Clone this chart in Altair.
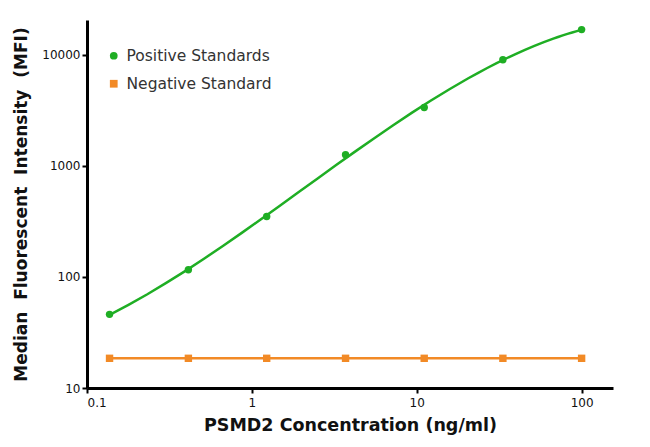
import altair as alt
import pandas as pd

conc = [0.137, 0.412, 1.23, 3.70, 11.1, 33.3, 100.0]
positive = [46, 116, 350, 1257, 3350, 9000, 16800]
negative = [18.5, 18.5, 18.5, 18.5, 18.5, 18.5, 18.5]
series_names = ["Positive Standards", "Negative Standard"]
colors = ["#1fae24", "#f28a26"]

rows = []
for c, p in zip(conc, positive):
    rows.append({"conc": c, "mfi": p, "series": series_names[0]})
for c, n in zip(conc, negative):
    rows.append({"conc": c, "mfi": n, "series": series_names[1]})
df = pd.DataFrame(rows)

FONT = "DejaVu Sans"
xs = alt.Scale(type="log", domain=[0.1, 155], nice=False)
ys = alt.Scale(type="log", domain=[10, 20500], nice=False)
cs = alt.Scale(domain=series_names, range=colors)
shs = alt.Scale(domain=series_names, range=["circle", "square"])

x = alt.X("conc:Q", scale=xs, title="PSMD2 Concentration (ng/ml)",
          axis=alt.Axis(values=[0.1, 1, 10, 100], format="~g", grid=False,
                        titlePadding=8, labelPadding=4, titleFontSize=17.5))
y = alt.Y("mfi:Q", scale=ys, title="Median\u00a0 Fluorescent\u00a0 Intensity\u00a0 (MFI)",
          axis=alt.Axis(values=[10, 100, 1000, 10000], format="d", grid=False,
                        titlePadding=11, titleFontSize=17))

leg = alt.Legend(orient="none", legendX=19, legendY=28, title=None,
                 labelFontSize=15.5, labelFont=FONT,
                 labelColor="#333", symbolSize=60, rowPadding=11,
                 labelOffset=5, symbolStrokeWidth=0, symbolOpacity=1)

base = alt.Chart(df)

pos_fit = base.transform_filter(
    alt.datum.series == series_names[0]
).transform_calculate(
    lx="log(datum.conc) / LN10", ly="log(datum.mfi) / LN10"
).transform_regression(
    "lx", "ly", method="poly", order=3, extent=[-0.863, 2.0]
).transform_calculate(
    conc="pow(10, datum.lx)", mfi="pow(10, datum.ly)"
).mark_line(strokeWidth=2.5, color=colors[0]).encode(x=x, y=y)

neg_line = base.transform_filter(
    alt.datum.series == series_names[1]
).mark_line(strokeWidth=2.5, color=colors[1]).encode(x=x, y=y)

pts = base.mark_point(filled=True, size=55, opacity=1).encode(
    x=x, y=y,
    color=alt.Color("series:N", scale=cs, title=None, legend=leg),
    shape=alt.Shape("series:N", scale=shs, title=None, legend=leg),
)

chart = alt.layer(pts, pos_fit, neg_line).properties(
    width=526, height=368,
    autosize=alt.AutoSizeParams(type="none"),
    padding={"left": 79, "top": 12, "right": 20, "bottom": 50},
).configure_view(stroke=None).configure_axis(
    domainColor="black", domainWidth=3, tickColor="black", tickWidth=2, tickSize=5,
    labelFont=FONT, labelFontSize=12, labelColor="#111",
    titleFont=FONT, titleFontWeight="bold", titleColor="#111",
).configure_legend(labelLimit=300)

chart.save("out.html", embed_options={"renderer": "svg", "actions": False})
